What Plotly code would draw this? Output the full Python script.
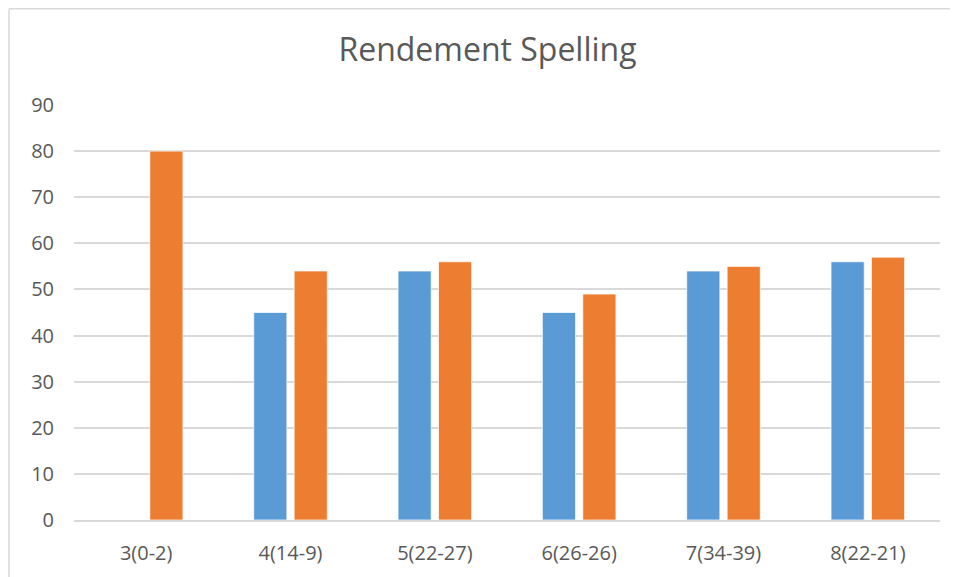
import plotly.graph_objects as go

categories = ["3(0-2)", "4(14-9)", "5(22-27)", "6(26-26)", "7(34-39)", "8(22-21)"]
series_blue = [0, 45, 54, 45, 54, 56]
series_orange = [80, 54, 56, 49, 55, 57]
y_ticks = [0, 10, 20, 30, 40, 50, 60, 70, 80, 90]

BLUE = "#5B9BD5"
ORANGE = "#ED7D31"
GRID = "#D9D9D9"
TEXT = "#595959"

# page body adds an 8px margin, so the figure is offset to sit where the original did
W, H = 950, 569
L, R, T, B = 66, 18, 97, 57
plot_w, plot_h = W - L - R, H - T - B

fig = go.Figure()
fig.add_trace(go.Bar(x=categories, y=series_blue, name="blauw",
                     marker=dict(color=BLUE, line=dict(color="white", width=0.7))))
fig.add_trace(go.Bar(x=categories, y=series_orange, name="oranje",
                     marker=dict(color=ORANGE, line=dict(color="white", width=0.7))))

fig.update_layout(
    width=W, height=H,
    margin=dict(l=L, r=R, t=T, b=B),
    paper_bgcolor="white", plot_bgcolor="white",
    barmode="group", bargap=0.44, bargroupgap=0.18,
    showlegend=False,
    font=dict(family="Open Sans", color=TEXT, size=20),
    title=dict(text="Rendement Spelling", x=479.5 / W, xanchor="center",
               y=1 - 42 / H, yanchor="middle", font=dict(size=32, color=TEXT)),
)
fig.update_xaxes(showgrid=False, showline=True, linecolor=GRID, linewidth=1.5,
                 ticks="", ticklabelstandoff=14, tickfont=dict(size=20))
fig.update_yaxes(range=[0, 90], tickvals=y_ticks, showgrid=True, gridcolor=GRID,
                 gridwidth=1.5, zeroline=False, showline=False, ticks="",
                 ticklabelstandoff=19, tickfont=dict(size=20))

# chart frame (left and top edges visible)
fx = (1 - L) / plot_w
fy = 1 + (T - 0.75) / plot_h
fig.add_shape(type="line", xref="paper", yref="paper",
              x0=fx, x1=fx, y0=fy, y1=-0.3,
              line=dict(color=GRID, width=1.5))
fig.add_shape(type="line", xref="paper", yref="paper",
              x0=fx, x1=1.1, y0=fy, y1=fy,
              line=dict(color=GRID, width=1.5))

fig.write_html("out.html")
